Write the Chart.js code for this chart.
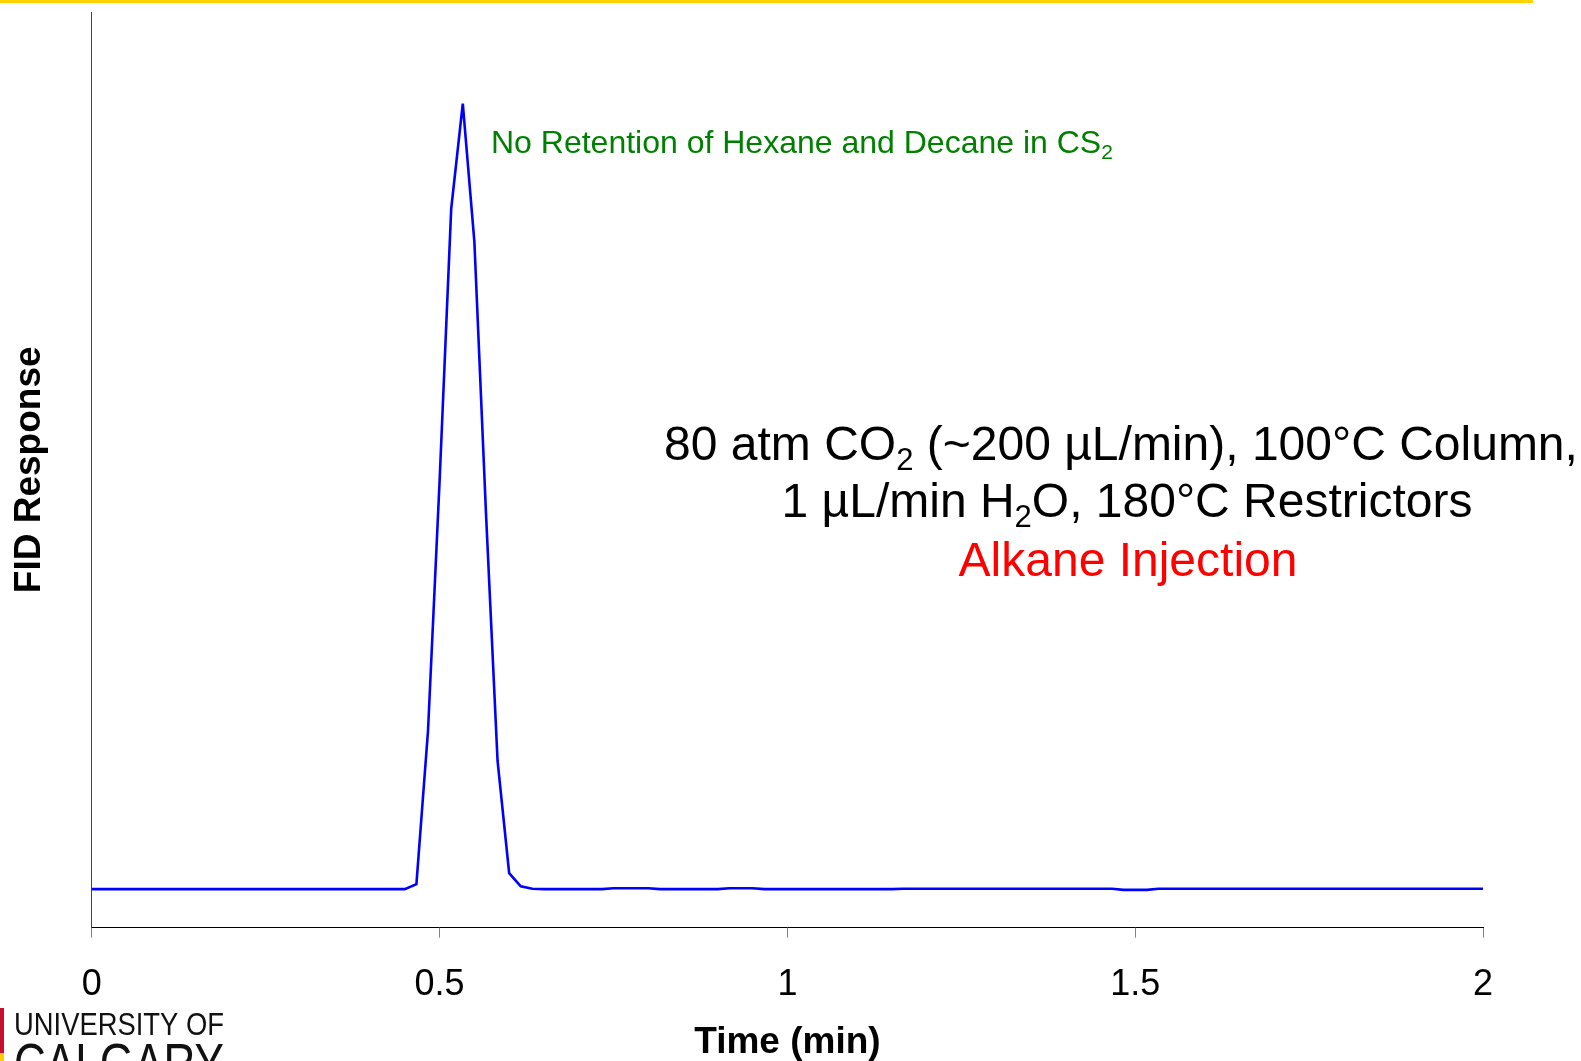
<!DOCTYPE html>
<html>
<head>
<meta charset="utf-8">
<script src="https://cdn.jsdelivr.net/npm/chart.js@4/dist/chart.umd.min.js"></script>
<style>
  html, body { margin: 0; padding: 0; background: #fff; }
  #wrap { position: relative; width: 1581px; height: 1061px; overflow: hidden; }
</style>
</head>
<body>
<div id="wrap"><canvas id="fidChart" width="1581" height="1061"></canvas></div>
<script>
// time axis, one sample per second (minutes)
const times = [];
for (let i = 0; i <= 120; i++) times.push(i / 60);

// FID response (arbitrary units, axis 0..100)
const response = [
  4.2, 4.2, 4.2, 4.2, 4.2, 4.2, 4.2, 4.2, 4.2, 4.2,
  4.2, 4.2, 4.2, 4.2, 4.2, 4.2, 4.2, 4.2, 4.2, 4.2,
  4.2, 4.2, 4.2, 4.2, 4.2, 4.2, 4.2, 4.2, 4.75, 21.5,
  48.8, 78.5, 90.0, 74.9, 45.3, 18.2, 5.95, 4.5, 4.25, 4.2,
  4.2, 4.2, 4.2, 4.2, 4.2, 4.3, 4.3, 4.3, 4.3, 4.2,
  4.2, 4.2, 4.2, 4.2, 4.2, 4.3, 4.3, 4.3, 4.2, 4.2,
  4.2, 4.2, 4.2, 4.2, 4.2, 4.2, 4.2, 4.2, 4.2, 4.2,
  4.25, 4.25, 4.25, 4.25, 4.25, 4.25, 4.25, 4.25, 4.25, 4.25,
  4.25, 4.25, 4.25, 4.25, 4.25, 4.25, 4.25, 4.25, 4.25, 4.12,
  4.12, 4.12, 4.25, 4.25, 4.25, 4.25, 4.25, 4.25, 4.25, 4.25,
  4.25, 4.25, 4.25, 4.25, 4.25, 4.25, 4.25, 4.25, 4.25, 4.25,
  4.25, 4.25, 4.25, 4.25, 4.25, 4.25, 4.25, 4.25, 4.25, 4.25,
  4.25
];

const xTicks = [0, 0.5, 1, 1.5, 2];

const FONT = 'Arial, "Liberation Sans", Helvetica, sans-serif';

// draw a line of text pieces, some of them subscripts
function drawRich(ctx, parts, x, y, size, color, align) {
  const subSize = Math.round(size * 0.65);
  let total = 0;
  parts.forEach(p => {
    ctx.font = (p.sub ? subSize : size) + 'px ' + FONT;
    p.w = ctx.measureText(p.t).width;
    total += p.w;
  });
  let cx = align === 'center' ? x - total / 2 : x;
  ctx.fillStyle = color;
  ctx.textAlign = 'left';
  ctx.textBaseline = 'alphabetic';
  parts.forEach(p => {
    ctx.font = (p.sub ? subSize : size) + 'px ' + FONT;
    ctx.fillText(p.t, cx, p.sub ? y + size * 0.2 : y);
    cx += p.w;
  });
}

const decorations = {
  id: 'decorations',
  afterDraw(chart) {
    const ctx = chart.ctx;
    ctx.save();

    // yellow rule at the top of the slide
    ctx.fillStyle = '#ffd400';
    ctx.fillRect(0, 0, 1533, 3);

    drawRich(ctx, [
      { t: 'No Retention of Hexane and Decane in CS' }, { t: '2', sub: true }
    ], 491, 153, 32, '#008000', 'left');

    drawRich(ctx, [
      { t: '80 atm CO' }, { t: '2', sub: true }, { t: ' (~200 \u00b5L/min), 100\u00b0C Column,' }
    ], 1121, 460, 48, '#000', 'center');
    drawRich(ctx, [
      { t: '1 \u00b5L/min H' }, { t: '2', sub: true }, { t: 'O, 180\u00b0C Restrictors' }
    ], 1127, 517, 48, '#000', 'center');
    drawRich(ctx, [{ t: 'Alkane Injection' }], 1128, 576, 48, '#ff0000', 'center');

    // university logo, bottom left
    ctx.fillStyle = '#c8102e';
    ctx.fillRect(0, 1008, 4, 45);
    ctx.fillStyle = '#ffcd00';
    ctx.fillRect(0, 1053, 4, 8);
    ctx.fillStyle = '#111';
    ctx.textAlign = 'left';
    ctx.font = '32px ' + FONT;
    ctx.fillText('UNIVERSITY OF', 14, 1035, 210);
    ctx.font = '56px ' + FONT;
    ctx.fillText('CALGARY', 14, 1082, 210);

    ctx.restore();
  }
};

const ctx = document.getElementById('fidChart').getContext('2d');
const chart = new Chart(ctx, {
  type: 'line',
  data: {
    labels: times,
    datasets: [{
      label: 'FID Response',
      data: times.map((t, i) => ({ x: t, y: response[i] })),
      borderColor: '#0000ff',
      borderWidth: 2.6,
      pointRadius: 0,
      tension: 0,
      fill: false
    }]
  },
  options: {
    responsive: false,
    animation: false,
    layout: { padding: { top: 12, right: 98, left: 0, bottom: 0 } },
    plugins: { legend: { display: false }, tooltip: { enabled: false } },
    scales: {
      x: {
        type: 'linear',
        min: 0,
        max: 2,
        afterBuildTicks: scale => { scale.ticks = xTicks.map(v => ({ value: v })); },
        afterFit: scale => { scale.height = 133.4; },
        grid: { drawOnChartArea: false, drawTicks: true, tickLength: 10, color: '#808080' },
        border: { display: true, color: '#000', width: 1 },
        ticks: {
          color: '#000',
          padding: 26,
          maxRotation: 0,
          font: { family: FONT, size: 36 },
          callback: v => String(v)
        },
        title: {
          display: true,
          text: 'Time (min)',
          color: '#000',
          padding: { top: 0, bottom: -4 },
          font: { family: FONT, size: 37, weight: 'bold' }
        }
      },
      y: {
        min: 0,
        max: 100,
        afterFit: scale => { scale.width = 91.8; },
        grid: { display: false },
        border: { display: true, color: '#444', width: 1 },
        ticks: { display: false },
        title: {
          display: true,
          text: 'FID Response',
          color: '#000',
          padding: { top: 8, bottom: 0 },
          font: { family: FONT, size: 37, weight: 'bold' }
        }
      }
    }
  },
  plugins: [decorations]
});
</script>
</body>
</html>
